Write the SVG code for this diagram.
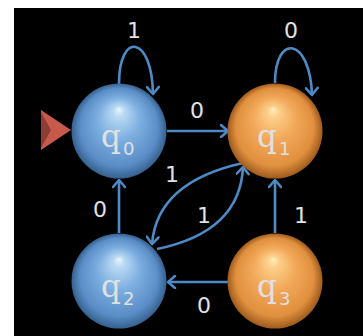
<svg xmlns="http://www.w3.org/2000/svg" width="363" height="336" viewBox="0 0 363 336">
<defs>
<radialGradient id="gBlue" cx="0.5" cy="0.5" r="0.5" fx="0.5" fy="0.27">
<stop offset="0" stop-color="#eaf6fd"/>
<stop offset="0.12" stop-color="#b8d9f3"/>
<stop offset="0.45" stop-color="#7caee0"/>
<stop offset="0.82" stop-color="#5a8dc6"/>
<stop offset="1" stop-color="#36618f"/>
</radialGradient>
<radialGradient id="gOrange" cx="0.5" cy="0.5" r="0.5" fx="0.48" fy="0.27">
<stop offset="0" stop-color="#fff0c0"/>
<stop offset="0.12" stop-color="#fccf8a"/>
<stop offset="0.45" stop-color="#f2a85a"/>
<stop offset="0.82" stop-color="#e0903e"/>
<stop offset="1" stop-color="#9f5b1c"/>
</radialGradient>
<marker id="arr" viewBox="0 0 12 14" refX="10" refY="7" markerWidth="12" markerHeight="14" markerUnits="userSpaceOnUse" orient="auto">
<path d="M3,1 L10,7 L3,13" fill="none" stroke="#4d8ac6" stroke-width="2.5" stroke-linecap="round" stroke-linejoin="round"/>
</marker>
</defs>
<style>
.edge{fill:none;stroke:#4d8ac6;stroke-width:2.6;marker-end:url(#arr)}
.lbl{font-family:"DejaVu Sans",sans-serif;font-size:22px;fill:#e2e2e2;text-anchor:middle}
.q{font-family:"DejaVu Serif",serif;font-size:31px;fill:#e0e0e0}
.sub{font-family:"DejaVu Sans",sans-serif;font-size:18px;fill:#e0e0e0}
</style>
<rect x="0" y="0" width="363" height="336" fill="#ffffff"/>
<rect x="14" y="8" width="349" height="328" fill="#000000"/>
<g id="start">
<polygon points="41,110 71,130 41,150" fill="#c85a4b"/>
<polygon points="41,112 51,130 41,148" fill="#8e3d35"/>
</g>
<g id="edges">
<path class="edge" d="M119,84 C119,31 152,35 153,94"/>
<path class="edge" d="M275,83 C275,33 310,37 312,95"/>
<path class="edge" d="M167,131 L228,131"/>
<path class="edge" d="M119,233 L119,180"/>
<path class="edge" d="M275,233 L275,180"/>
<path class="edge" d="M228,282 L168,282"/>
<path class="edge" d="M243,163 Q157,182 152,244"/>
<path class="edge" d="M157,249 Q240,232 243,167"/>
<text class="lbl" x="134" y="38">1</text>
<text class="lbl" x="291" y="38">0</text>
<text class="lbl" x="197" y="118">0</text>
<text class="lbl" x="172" y="182">1</text>
<text class="lbl" x="204" y="223">1</text>
<text class="lbl" x="100" y="217">0</text>
<text class="lbl" x="301" y="223">1</text>
<text class="lbl" x="204" y="313">0</text>
</g>
<g id="q0">
<circle cx="119" cy="131" r="47.5" fill="url(#gBlue)"/>
<text class="q" x="101" y="147">q</text><text class="sub" x="123" y="155">0</text>
</g>
<g id="q1">
<circle cx="275" cy="131" r="47.5" fill="url(#gOrange)"/>
<text class="q" x="257" y="147">q</text><text class="sub" x="279" y="155">1</text>
</g>
<g id="q2">
<circle cx="119" cy="281" r="47.5" fill="url(#gBlue)"/>
<text class="q" x="101" y="297">q</text><text class="sub" x="123" y="305">2</text>
</g>
<g id="q3">
<circle cx="275" cy="281" r="47.5" fill="url(#gOrange)"/>
<text class="q" x="257" y="297">q</text><text class="sub" x="279" y="305">3</text>
</g>
</svg>
